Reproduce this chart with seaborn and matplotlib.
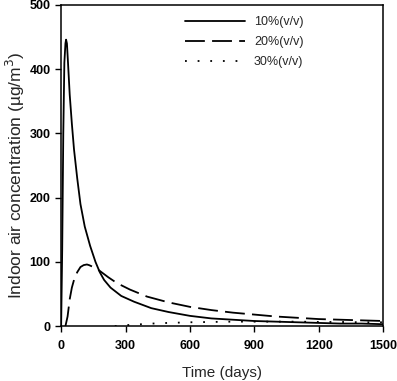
import pandas as pd
import seaborn as sns
import matplotlib.pyplot as plt

sns.set_theme(style="ticks")
plt.rcParams['font.family'] = ['Liberation Sans', 'DejaVu Sans']

# Dati
days_10 = [0, 5, 10, 15, 20, 23, 27, 32, 40, 50, 60, 75, 90, 110, 135, 160, 180, 200, 230,
           280, 340, 420, 500, 600, 700, 800, 900, 1000, 1100, 1200, 1300, 1400, 1500]
conc_10 = [0, 120, 300, 410, 440, 446, 440, 410, 360, 315, 275, 230, 190, 155, 125, 100, 84, 72, 60,
           47, 38, 28, 22, 16, 12, 10, 8, 7, 6, 5, 4, 4, 3]

days_20 = [20, 30, 40, 50, 60, 75, 90, 105, 120, 130, 150, 180, 220, 260, 320, 400, 500,
           600, 700, 800, 900, 1000, 1100, 1200, 1300, 1400, 1500]
conc_20 = [0, 15, 42, 60, 72, 84, 92, 95, 96, 95, 92, 86, 76, 67, 57, 46, 37,
           30, 25, 21, 18, 15, 13, 11, 10, 9, 8]

days_30 = [250, 300, 350, 400, 450, 500, 600, 700, 800, 900, 1000, 1100, 1200, 1300, 1400, 1500]
conc_30 = [0, 1.5, 2.5, 3.5, 4.5, 5, 6, 6.5, 7, 7, 7, 7, 6.5, 6.5, 6, 6]

labels = ["10%(v/v)", "20%(v/v)", "30%(v/v)"]
x_ticks = [0, 300, 600, 900, 1200, 1500]
y_ticks = [0, 100, 200, 300, 400, 500]

fig = plt.figure(figsize=(3.97, 3.81), dpi=100)
ax = fig.add_axes([0.154, 0.144, 0.811, 0.843])

series = [(days_10, conc_10, "-"), (days_20, conc_20, (0, (11, 4))), (days_30, conc_30, (0, (1, 6)))]
for (d, c, ls), lab in zip(series, labels):
    df = pd.DataFrame({"day": d, "conc": c})
    sns.lineplot(data=df, x="day", y="conc", ax=ax, color="black", lw=1.3,
                 linestyle=ls, label=lab)

ax.set_xlim(0, 1500)
ax.set_ylim(0, 500)
ax.set_xticks(x_ticks)
ax.set_yticks(y_ticks)
ax.tick_params(direction="out", length=4, width=1, labelsize=9, colors="black")
ax.tick_params(axis="x", pad=6)
for lbl in ax.get_xticklabels() + ax.get_yticklabels():
    lbl.set_fontweight("bold")
for s in ax.spines.values():
    s.set_color("black")
    s.set_linewidth(1.1)

ax.set_xlabel("Time (days)", fontsize=11, labelpad=10)
ax.set_ylabel("Indoor air concentration (\u00b5g/m$^3$)", fontsize=12.5)
ax.yaxis.set_label_coords(-0.106, 0.47)

ax.legend(loc="upper left", bbox_to_anchor=(0.385, 0.965), frameon=False, fontsize=9,
          handlelength=4.8, handletextpad=0.7, labelspacing=0.65, borderaxespad=0, borderpad=0)

plt.savefig("out.png", dpi=100)
